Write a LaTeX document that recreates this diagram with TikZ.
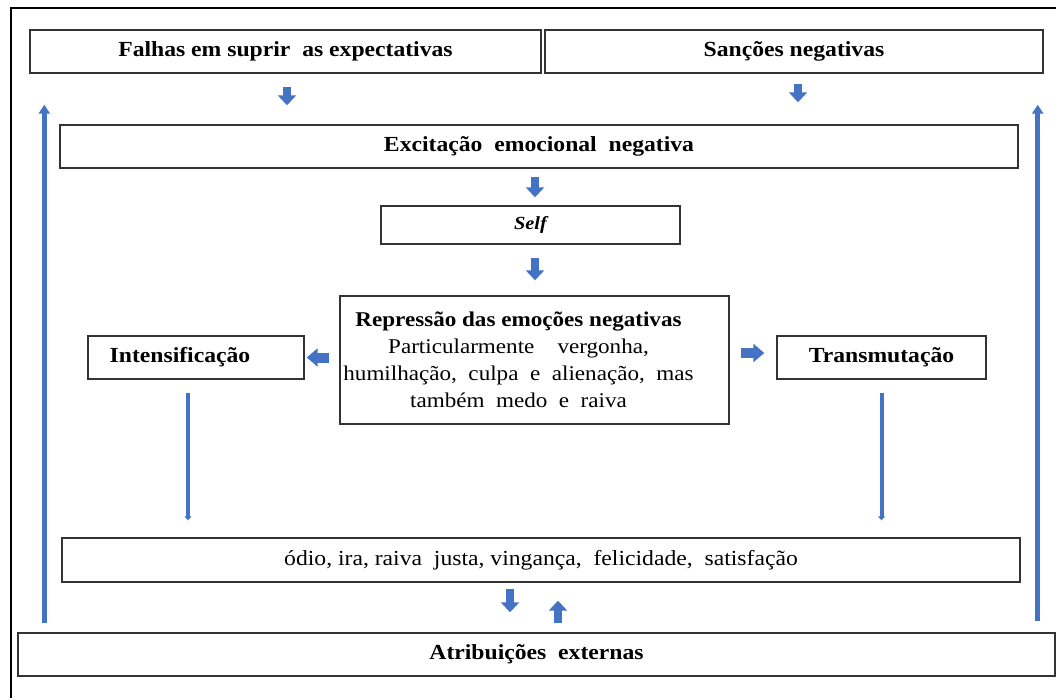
\documentclass[tikz,border=0pt]{standalone}
\usepackage{fontspec}
\setmainfont[FakeStretch=1.1]{Liberation Serif}
\newfontfamily\widefont[FakeStretch=1.1,WordSpace=2]{Liberation Serif}
\usetikzlibrary{arrows.meta}
\usetikzlibrary{positioning}
\definecolor{arrowblue}{HTML}{4472C4}

\begin{document}
\fontsize{21.5}{25}\selectfont
\begin{tikzpicture}[x=1pt,y=-1pt,
  box/.style={draw=black!80,line width=1.4pt,inner sep=0pt},
  title/.style={font=\bfseries},
  fat/.style={draw=arrowblue,line width=8pt,-{Triangle[width=18pt,length=10pt]}},
  fatside/.style={draw=arrowblue,line width=10pt,-{Triangle[width=18pt,length=11pt]}},
  slim/.style={draw=arrowblue,line width=4pt,-{Triangle[width=7pt,length=4pt]}},
  long/.style={draw=arrowblue,line width=5pt,-{Triangle[width=11pt,length=9pt]}}]
\useasboundingbox (0,0) rectangle (1056,698);
\draw[line width=1.6pt] (11,698) -- (11,8) -- (1056,8);

\node[box,title,minimum width=511pt,minimum height=43pt] (falhas) at (285.5,51.5) {Falhas em suprir\ \ as expectativas};
\node[box,title,minimum width=498pt,minimum height=43pt] (sancoes) at (794,51.5) {Sanções negativas};
\node[box,title,minimum width=958pt,minimum height=43pt] (excit) at (539,146.5) {Excitação\ \ emocional\ \ negativa};
\node[box,minimum width=299pt,minimum height=38pt,font=\fontsize{18.5}{20}\selectfont\bfseries\itshape] (self) at (530.5,225) {Self};
\node[box,minimum width=389pt,minimum height=128pt] (repr) at (534.5,360) {};
\node[align=center,font=\fontsize{21}{27}\selectfont] (reprtext) at ([xshift=-16pt]repr.center) {\textbf{Repressão das emoções negativas}\\
  {\widefont Particularmente\ \ vergonha,}\\
  {\widefont humilhação, culpa e alienação, mas}\\
  {\widefont também medo e raiva}};
\node[box,minimum width=216pt,minimum height=43pt] (intens) at (196,357.5) {};
\node[title] (intenstext) at ([xshift=-16pt]intens.center) {Intensificação};
\node[box,title,minimum width=209pt,minimum height=43pt] (transm) at (881.5,357.5) {Transmutação};
\node[box,minimum width=958pt,minimum height=44pt] (odio) at (541,560) {ódio, ira, raiva\ \ justa, vingança,\ \ felicidade,\ \ satisfação};
\node[box,title,minimum width=1037pt,minimum height=43pt] (atrib) at (536.5,654.5) {Atribuições\ \ externas};

\draw[fat,shorten <=13pt,shorten >=19pt] ([xshift=1.5pt]falhas.south) -- ([xshift=1.5pt]falhas.south |- excit.north);
\draw[fat,shorten <=10pt,shorten >=22pt] ([xshift=4pt]sancoes.south) -- ([xshift=4pt]sancoes.south |- excit.north);
\draw[fat,shorten <=8pt,shorten >=8pt] ([xshift=4.5pt]self.north |- excit.south) -- ([xshift=4.5pt]self.north);
\draw[fat,shorten <=13pt,shorten >=15pt] ([xshift=4.5pt]self.south) -- ([xshift=4.5pt]self.south |- repr.north);
\draw[fatside,shorten <=10pt,shorten >=2pt] (repr.west |- intens.east) -- (intens.east);
\draw[fatside,shorten <=11pt,shorten >=12pt] ([yshift=4.5pt]repr.east |- transm.west) -- ([yshift=4.5pt]transm.west);
\draw[slim,shorten <=13pt,shorten >=17pt] ([xshift=-8pt]intens.south) -- ([xshift=-8pt]intens.south |- odio.north);
\draw[slim,shorten <=13pt,shorten >=17pt] (transm.south) -- (transm.south |- odio.north);
\draw[fat,shorten <=6pt,shorten >=20pt] ([xshift=-31pt]odio.south) -- ([xshift=-31pt]odio.south |- atrib.north);
\draw[fat,shorten <=9pt,shorten >=18pt] ([xshift=17pt]odio.south |- atrib.north) -- ([xshift=17pt]odio.south);
\draw[long,shorten <=9pt,shorten >=31pt] ([xshift=15pt]falhas.west |- atrib.north) -- ([xshift=15pt]falhas.south west);
\draw[long,shorten <=11pt,shorten >=31pt] ([xshift=-6pt]sancoes.east |- atrib.north) -- ([xshift=-6pt]sancoes.south east);
\end{tikzpicture}
\end{document}
